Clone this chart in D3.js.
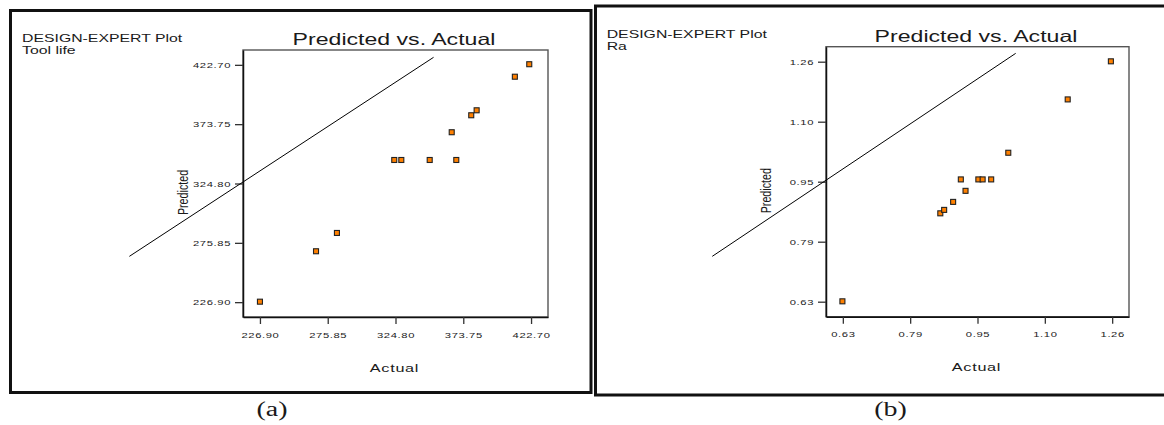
<!DOCTYPE html>
<html>
<head>
<meta charset="utf-8">
<script src="https://cdn.jsdelivr.net/npm/d3@7"></script>
<style>
  body { margin: 0; background: #fff; }
  svg { display: block; }
  text { font-family: "Liberation Sans", Arial, sans-serif; fill: #1a1a1a; }
</style>
</head>
<body>
<div id="chart"></div>
<script>
// --- data ---
var toolTicks = [226.90, 275.85, 324.80, 373.75, 422.70];
var toolTickLabels = ["226.90", "275.85", "324.80", "373.75", "422.70"];
var toolActual    = [226.9, 267.4, 282.5, 323.9, 329.0, 349.5, 368.7, 365.4, 379.5, 383.4, 411.0, 421.4];
var toolPredicted = [227.3, 268.9, 284.0, 344.2, 344.2, 344.2, 344.2, 367.1, 381.1, 385.2, 412.9, 423.2];
var toolLineX = [132.6, 352.3];
var toolLineY = [264.7, 428.9];

var raTicks = [0.63, 0.7875, 0.945, 1.1025, 1.26];
var raTickLabels = ["0.63", "0.79", "0.95", "1.10", "1.26"];
var raActual    = [0.629, 0.858, 0.867, 0.888, 0.917, 0.906, 0.947, 0.957, 0.977, 1.017, 1.156, 1.257];
var raPredicted = [0.631, 0.862, 0.871, 0.892, 0.921, 0.951, 0.951, 0.951, 0.951, 1.021, 1.161, 1.261];
var raLineX = [0.3246, 1.0343];
var raLineY = [0.7491, 1.2819];

var SX = 1.4; // the whole figure is stretched sideways

var svg = d3.select("#chart").append("svg")
    .attr("width", 1164)
    .attr("height", 425);

function stretchText(g, x, y, str, size, anchor, rotate) {
    var t = g.append("text")
        .attr("transform", "translate(" + x + "," + y + ") scale(" + SX + ",1)" + (rotate ? " rotate(-90)" : ""))
        .attr("text-anchor", anchor || "start")
        .style("font-size", size + "px")
        .text(str);
    return t;
}

function PredPanel(opts) {

    var g = svg.append("g");

    // panel frame
    g.append("rect")
        .attr("x", opts.frame[0]).attr("y", opts.frame[1])
        .attr("width", opts.frame[2]).attr("height", opts.frame[3])
        .attr("fill", "none").attr("stroke", "#111").attr("stroke-width", 3);

    var L = opts.box[0], T = opts.box[1], R = opts.box[2], B = opts.box[3];
    var ticks = opts.ticks;
    var step = ticks[1] - ticks[0];
    var dom = [ticks[0] - 0.25 * step, ticks[ticks.length - 1] + 0.25 * step];

    var x = d3.scaleLinear().domain(dom).range([L, R]);
    var y = d3.scaleLinear().domain(dom).range([B, T]);

    // plot box (top/right in grey)
    g.append("rect")
        .attr("x", L).attr("y", T).attr("width", R - L).attr("height", B - T)
        .attr("fill", "none").attr("stroke", "#555").attr("stroke-width", 1.4);

    var fmt = function(d, i) { return opts.labels[i]; };

    var yAxis = g.append("g")
        .attr("transform", "translate(" + L + ",0)")
        .call(d3.axisLeft(y).tickValues(ticks).tickFormat(fmt).tickSize(8).tickSizeOuter(0).tickPadding(4));
    var xAxis = g.append("g")
        .attr("transform", "translate(0," + B + ")")
        .call(d3.axisBottom(x).tickValues(ticks).tickFormat(fmt).tickSize(7).tickSizeOuter(0).tickPadding(8));

    [yAxis, xAxis].forEach(function(a) {
        a.select(".domain").attr("stroke", "#111").attr("stroke-width", 1.5);
        a.selectAll(".tick line").attr("stroke", "#333").attr("stroke-width", 1.3);
        a.selectAll(".tick text")
            .style("font-family", "'Liberation Sans', Arial, sans-serif")
            .style("font-size", "8px")
            .style("letter-spacing", "0.45px")
            .attr("fill", "#222");
    });
    yAxis.selectAll(".tick text")
        .attr("x", -12 / SX)
        .attr("transform", "scale(" + SX + ",1)");
    xAxis.selectAll(".tick text")
        .attr("transform", "scale(" + SX + ",1)");

    // reference line
    g.append("line")
        .attr("x1", x(opts.lineX[0])).attr("y1", y(opts.lineY[0]))
        .attr("x2", x(opts.lineX[1])).attr("y2", y(opts.lineY[1]))
        .attr("stroke", "#000").attr("stroke-width", 1);

    // points
    var pts = opts.actual.map(function(d, i) { return [d, opts.predicted[i]]; });
    g.selectAll(".pt")
        .data(pts)
        .enter().append("rect")
        .attr("class", "pt")
        .attr("x", function(d) { return x(d[0]) - 2.5; })
        .attr("y", function(d) { return y(d[1]) - 2.5; })
        .attr("width", 5).attr("height", 5)
        .attr("fill", "#ff8000")
        .attr("stroke", "#222").attr("stroke-width", 1.1);

    // texts
    stretchText(g, opts.headX, opts.headY, "DESIGN-EXPERT Plot", 11.3);
    stretchText(g, opts.headX, opts.headY + 12, opts.response, 11.3);
    stretchText(g, (L + R) / 2 - 1.5, T - 5, "Predicted vs. Actual", 16.5, "middle");
    stretchText(g, (L + R) / 2 - 1, B + 54.5, "Actual", 11.6, "middle").style("letter-spacing", "0.5px");
    stretchText(g, L - 55.5, (T + B) / 2 + 9, "Predicted", 10.7, "middle", true);

    g.append("text")
        .attr("transform", "translate(" + opts.capX + ",415.5) scale(" + SX + ",1)")
        .attr("text-anchor", "middle")
        .style("font-family", "'Liberation Serif', 'Times New Roman', serif")
        .style("font-size", "20px")
        .attr("fill", "#000")
        .text(opts.caption);

    return g;
}

PredPanel({
    frame: [10.5, 10.5, 580.5, 382], box: [243, 50, 548, 317],
    ticks: toolTicks, labels: toolTickLabels,
    actual: toolActual, predicted: toolPredicted,
    lineX: toolLineX, lineY: toolLineY,
    headX: 22, headY: 41.7, response: "Tool life",
    caption: "(a)", capX: 272
});

PredPanel({
    frame: [595.5, 6, 620, 389], box: [826, 46.7, 1129, 316.7],
    ticks: raTicks, labels: raTickLabels,
    actual: raActual, predicted: raPredicted,
    lineX: raLineX, lineY: raLineY,
    headX: 606.7, headY: 38.3, response: "Ra",
    caption: "(b)", capX: 890.5
});
</script>
</body>
</html>
